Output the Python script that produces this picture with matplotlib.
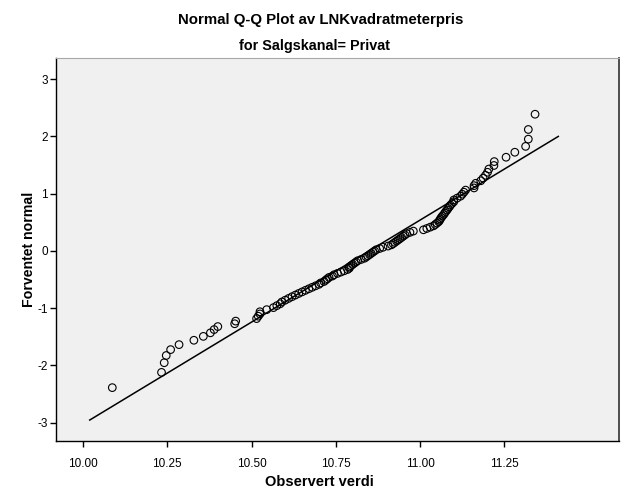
import numpy as np
import matplotlib
matplotlib.use('Agg')
import matplotlib.pyplot as plt
from statistics import NormalDist

# Observed values (LNKvadratmeterpris, Salgskanal = Privat), sorted
observed = [
    10.087, 10.233, 10.241, 10.247, 10.260, 10.285, 10.329, 10.357, 10.378, 10.389,
    10.400, 10.450, 10.453, 10.515, 10.520, 10.525, 10.525, 10.545, 10.565, 10.575,
    10.585, 10.590, 10.600, 10.610, 10.620, 10.630, 10.640, 10.650, 10.660, 10.670,
    10.680, 10.690, 10.700, 10.705, 10.715, 10.720, 10.725, 10.730, 10.740, 10.745,
    10.755, 10.765, 10.775, 10.785, 10.790, 10.790, 10.795, 10.800, 10.805, 10.810,
    10.815, 10.825, 10.835, 10.840, 10.845, 10.850, 10.855, 10.860, 10.865, 10.870,
    10.880, 10.890, 10.905, 10.915, 10.920, 10.925, 10.930, 10.935, 10.940, 10.945,
    10.950, 10.955, 10.960, 10.970, 10.980, 11.010, 11.020, 11.030, 11.040, 11.045,
    11.050, 11.055, 11.058, 11.060, 11.063, 11.066, 11.070, 11.073, 11.076, 11.080,
    11.083, 11.087, 11.090, 11.095, 11.100, 11.100, 11.110, 11.120, 11.125, 11.130,
    11.135, 11.160, 11.160, 11.165, 11.180, 11.187, 11.194, 11.200, 11.204, 11.219,
    11.220, 11.255, 11.281, 11.313, 11.321, 11.321, 11.341,
]

# x range of the reference line
line_x = [10.02, 11.41]

x_ticks = [10.00, 10.25, 10.50, 10.75, 11.00, 11.25]
x_labels = ['10.00', '10.25', '10.50', '10.75', '11.00', '11.25']
y_ticks = [-3, -2, -1, 0, 1, 2, 3]

plt.rcParams['font.family'] = ['Liberation Sans', 'DejaVu Sans']
plt.rcParams['axes.unicode_minus'] = False

# Expected normal values (rank based, i/(n+1))
obs = np.array(observed)
n = len(obs)
nd = NormalDist()
expected = np.array([nd.inv_cdf(i / (n + 1)) for i in range(1, n + 1)])

mean = obs.mean()
sd = obs.std(ddof=1)
lx = np.array(line_x)
ly = (lx - mean) / sd

fig = plt.figure(figsize=(6.26, 5.01), dpi=100)
ax = fig.add_axes([56 / 626, 1 - 441 / 501, 563 / 626, 383 / 501])
ax.set_facecolor('#f0f0f0')

ax.plot(lx, ly, color='black', linewidth=1.1, zorder=2)
ax.scatter(obs, expected, s=30, facecolors='none', edgecolors='black',
           linewidths=0.8, zorder=3)

ax.set_xlim(9.92, 11.59)
ax.set_ylim(-3.32, 3.37)
ax.set_xticks(x_ticks)
ax.set_xticklabels(x_labels)
ax.set_yticks(y_ticks)
ax.tick_params(direction='out', length=4, width=1, labelsize=8.5, pad=2)
ax.tick_params(axis='x', pad=8)

for side in ['left', 'bottom']:
    ax.spines[side].set_color('black')
    ax.spines[side].set_linewidth(1)
ax.spines['top'].set_color('#a8a8a8')
ax.spines['right'].set_color('#404040')
ax.spines['right'].set_linewidth(1.3)

ax.set_xlabel('Observert verdi', fontsize=10.5, fontweight='bold')
ax.xaxis.set_label_coords((319.5 - 56) / 563, -(475 - 441) / 383)
ax.set_ylabel('Forventet normal', fontsize=10.2, fontweight='bold')
ax.yaxis.set_label_coords(-(56 - 36) / 563, 0.5)

fig.text(320.5 / 626, 1 - 20 / 501, 'Normal Q-Q Plot av LNKvadratmeterpris', ha='center',
         va='center', fontsize=10.8, fontweight='bold')
fig.text(314.5 / 626, 1 - 46 / 501, 'for Salgskanal= Privat', ha='center', va='center',
         fontsize=10.4, fontweight='bold')

fig.savefig('out.png', dpi=100)
